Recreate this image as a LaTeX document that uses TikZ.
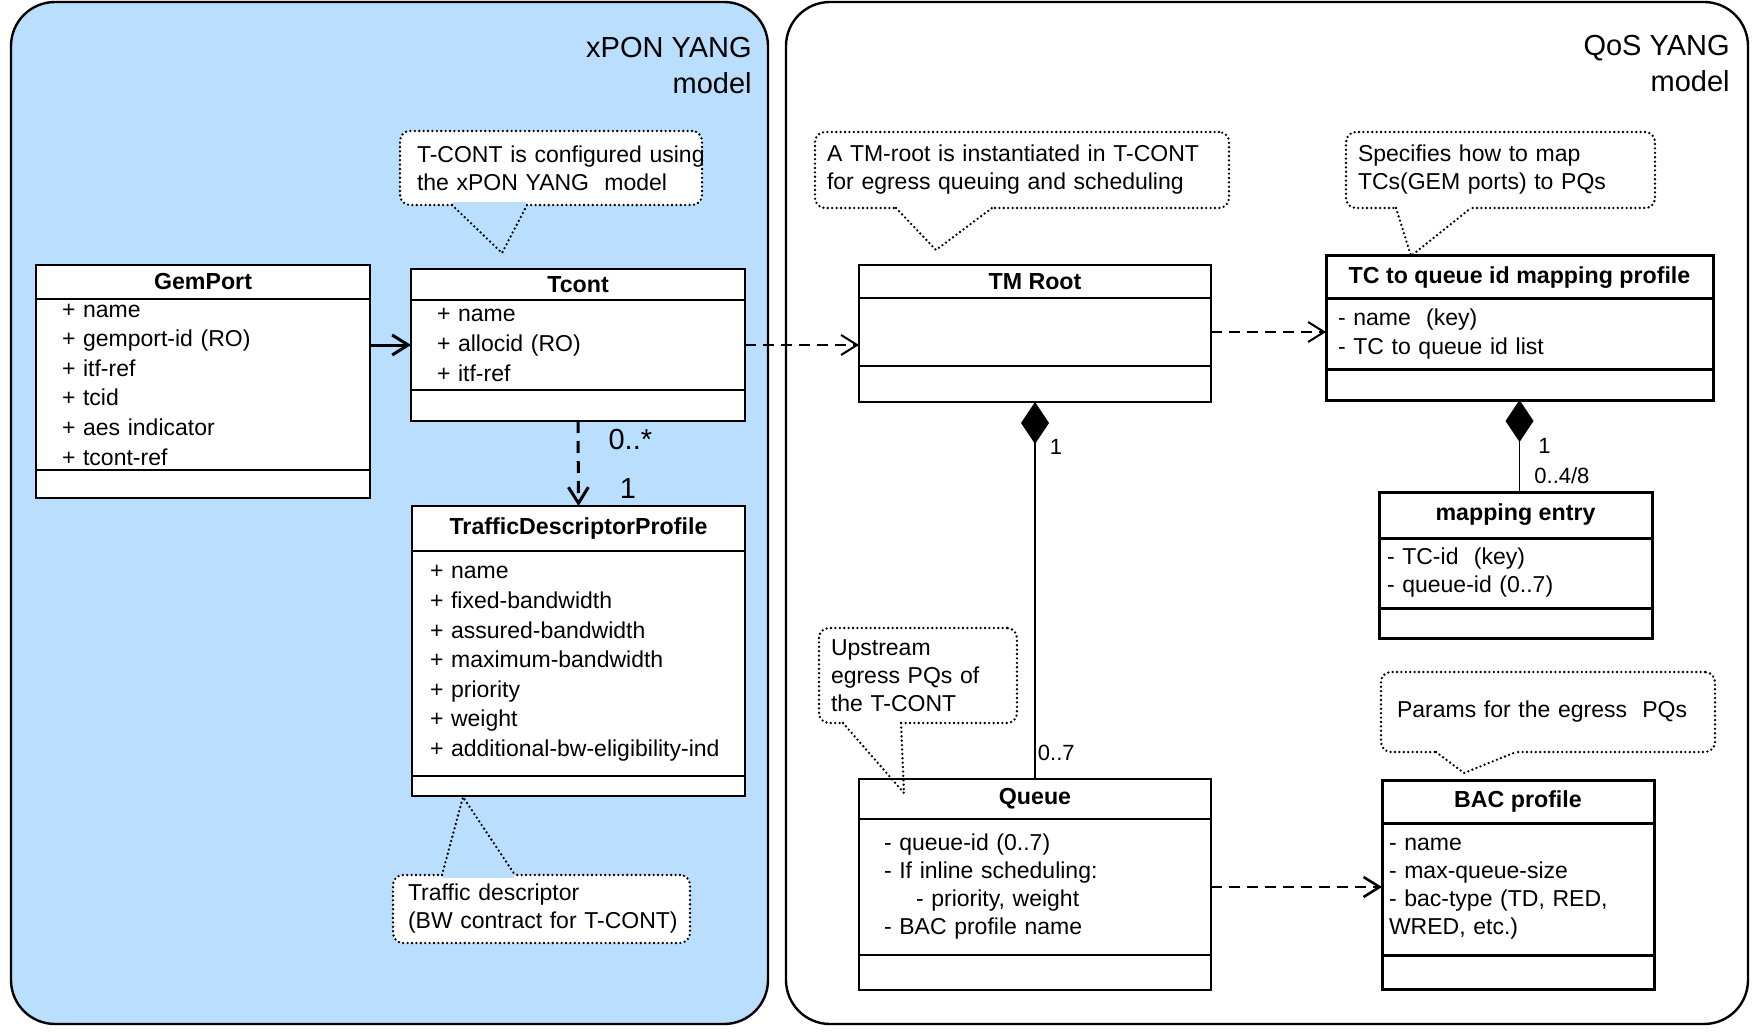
\documentclass[tikz,border=0pt]{standalone}
\usepackage{fontspec}
\setmainfont{Liberation Sans}
\usetikzlibrary{arrows.meta}
\definecolor{xponblue}{RGB}{185,222,254}

\begin{document}
\begin{tikzpicture}[x=0.5pt,y=-0.5pt]
\tikzset{cls/.style = {draw,fill=white,anchor=north west,inner sep=0pt,outer sep=0pt,line width=#1},cls/.default=1.2pt}
\tikzset{clshead/.style = {font=\fontsize{11.6}{14}\selectfont\bfseries}}
\tikzset{clsbody/.style = {align=left,font=\fontsize{11.5}{#1}\selectfont},clsbody/.default=14.8}
\tikzset{notebox/.style = {draw,fill=white,anchor=north west,inner ysep=0pt,outer sep=0pt,align=left,line width=1.3pt,dash pattern=on 0pt off 2.2pt,line cap=round,rounded corners=5pt,font=\fontsize{11.5}{14}\selectfont}}
\tikzset{pointer/.style = {line width=1.3pt,dash pattern=on 0pt off 2.2pt,line cap=round}}
\tikzset{panel/.style = {draw,line width=1.2pt,rounded corners=22pt}}
\tikzset{title/.style = {anchor=north east,align=right,inner sep=0pt,font=\fontsize{14.5}{18}\selectfont}}
\tikzset{lbl/.style = {inner sep=0pt,font=\fontsize{11}{13}\selectfont}}
\tikzset{edge/.style = {-{Straight Barb[length=8pt,width=10pt]},line width=1pt,dash pattern=on 5.5pt off 3.5pt}}
\tikzset{comp/.style = {{Diamond[length=21pt,width=14pt]}-,line width=0.9pt}}
\useasboundingbox (0,0) rectangle (1756,1032);
% the two models
\draw[panel,fill=xponblue] (11,2) rectangle (768,1024);
\draw[panel] (786,2) rectangle (1748,1024);
\node[title] (xpon) at (752,37) {xPON YANG\\model};
\node[title] (qos) at (1730,35) {QoS YANG\\model};
% xPON classes
\node[cls,clshead,minimum width=167pt,minimum height=17pt] (gem) at (36,265) {GemPort};
\node[cls,clsbody,text width=141pt,inner xsep=13pt,minimum height=85.5pt] (gemA) at (gem.south west) {+ name\\+ gemport-id (RO)\\+ itf-ref\\+ tcid\\+ aes indicator\\+ tcont-ref};
\node[cls,minimum width=167pt,minimum height=14pt] (gemB) at (gemA.south west) {};
\node[cls,clshead,minimum width=167pt,minimum height=15.5pt] (tc) at (411,269) {Tcont};
\node[cls,clsbody,text width=141pt,inner xsep=13pt,minimum height=45pt] (tcA) at (tc.south west) {+ name\\+ allocid (RO)\\+ itf-ref};
\node[cls,minimum width=167pt,minimum height=15.5pt] (tcB) at (tcA.south west) {};
\node[cls,clshead,minimum width=166.5pt,minimum height=22.5pt] (tdp) at (412,506) {TrafficDescriptorProfile};
\node[cls,clsbody,text width=148.5pt,inner xsep=9pt,minimum height=112.5pt] (tdpA) at (tdp.south west) {+ name\\+ fixed-bandwidth\\+ assured-bandwidth\\+ maximum-bandwidth\\+ priority\\+ weight\\\mbox{+ additional-bw-eligibility-ind}};
\node[cls,minimum width=166.5pt,minimum height=10pt] (tdpB) at (tdpA.south west) {};
% QoS classes
\node[cls=0.8pt,clshead,minimum width=176pt,minimum height=16.5pt] (tm) at (859,265) {TM Root};
\node[cls=0.8pt,minimum width=176pt,minimum height=34pt] (tmA) at (tm.south west) {};
\node[cls=0.8pt,minimum width=176pt,minimum height=18pt] (tmB) at (tmA.south west) {};
\node[cls=1.5pt,clshead,minimum width=193.5pt,minimum height=21.5pt] (map) at (1326,256) {TC to queue id mapping profile};
\node[cls=1.5pt,clsbody=14.5,text width=181.5pt,inner xsep=6pt,minimum height=35pt] (mapA) at (map.south west) {- name\ \ (key)\\- TC to queue id list};
\node[cls=1.5pt,minimum width=193.5pt,minimum height=15.5pt] (mapB) at (mapA.south west) {};
\node[cls=1.5pt,clshead,minimum width=136.5pt,minimum height=23pt] (entry) at (1379,492) {mapping entry};
\node[cls=1.5pt,clsbody=14,text width=128.5pt,inner xsep=4pt,minimum height=35pt] (entryA) at (entry.south west) {- TC-id\ \ (key)\\- queue-id (0..7)};
\node[cls=1.5pt,minimum width=136.5pt,minimum height=15pt] (entryB) at (entryA.south west) {};
\node[cls=0.8pt,clshead,minimum width=176pt,minimum height=20pt] (queue) at (859,779) {Queue};
\node[cls=0.8pt,clsbody=14,text width=151pt,inner xsep=12.5pt,minimum height=68pt] (queueA) at (queue.south west) {- queue-id (0..7)\\- If inline scheduling:\\\hspace*{16pt}- priority, weight\\- BAC profile name};
\node[cls=0.8pt,minimum width=176pt,minimum height=17.5pt] (queueB) at (queueA.south west) {};
\node[cls=1.5pt,clshead,minimum width=136pt,minimum height=21.5pt] (bac) at (1382,780) {BAC profile};
\node[cls=1.5pt,clsbody=14,text width=129pt,inner xsep=3.5pt,minimum height=66pt] (bacA) at (bac.south west) {- name\\- max-queue-size\\- bac-type (TD, RED,\\WRED, etc.)};
\node[cls=1.5pt,minimum width=136pt,minimum height=17pt] (bacB) at (bacA.south west) {};
% notes
\node[notebox,text width=134pt,inner xsep=8.5pt,minimum height=37pt] (tcnote) at (400,131) {\mbox{T-CONT is configured using}\\the xPON YANG\ \ model};
\fill[xponblue] (453,202) rectangle (526,208);
\draw[pointer] (452,205) -- (502,253) -- (527,205);
\node[notebox,text width=195pt,inner xsep=6pt,minimum height=38pt] (tmnote) at (815,132) {A TM-root is instantiated in T-CONT\\for egress queuing and scheduling};
\fill[white] (897,205) rectangle (991,211);
\draw[pointer] (896,208) -- (936,250) -- (992,208);
\node[notebox,text width=142.5pt,inner xsep=6pt,minimum height=38pt] (mapnote) at (1346,132) {Specifies how to map\\TCs(GEM ports) to PQs};
\fill[white] (1397,205) rectangle (1470,211);
\draw[pointer] (1396,208) -- (1411,256) -- (1471,208);
\node[notebox,text width=87pt,inner xsep=6pt,minimum height=47.5pt] (queuenote) at (819,628) {Upstream\\egress PQs of\\the T-CONT};
\fill[white] (844,720) rectangle (900,726);
\draw[pointer] (843,723) -- (904,793) -- (901,723);
\node[notebox,text width=151pt,inner xsep=8pt,minimum height=40pt] (bacnote) at (1381,672) {Params for the egress\ \ PQs};
\fill[white] (1437,749) rectangle (1515,755);
\draw[pointer] (1436,752) -- (1464,773) -- (1516,752);
\node[notebox,text width=133.5pt,inner xsep=7.5pt,minimum height=34pt] (tdpnote) at (393,875) {Traffic descriptor\\\mbox{(BW contract for T-CONT)}};
\fill[xponblue] (443,872) rectangle (514,878);
\draw[pointer] (442,875) -- (463,797) -- (515,875);
% connectors
\draw[-{Straight Barb[length=8pt,width=10pt]},line width=1.5pt] (gemA.east |- tcA.west) -- (tcA.west);
\draw[edge] (tcA.east) -- (tcA.east -| tmA.west);
\draw[edge] (tmA.east) -- (tmA.east -| mapA.west);
\draw[edge,line width=1.3pt] (queueA.east) -- (queueA.east -| bacA.west);
\path[edge,line width=1.5pt,dash pattern=on 6pt off 4pt] (tcB.south) edge node[pos=.22,right=14.5pt,inner sep=0pt,font=\fontsize{14.5}{17}\selectfont] {0..*} node[pos=.8,right=20pt,inner sep=0pt,font=\fontsize{14.5}{17}\selectfont] {1} (tdp.north);
\path[comp] (tmB.south) edge node[lbl,pos=.12,right=7pt] {1} node[lbl,pos=.93,right=1pt] {0..7} (queue.north);
\path[comp] (mapB.south) edge node[lbl,pos=.5,right=9pt] {1} node[lbl,pos=.82,right=7pt] {0..4/8} (mapB.south |- entry.north);
\end{tikzpicture}
\end{document}
